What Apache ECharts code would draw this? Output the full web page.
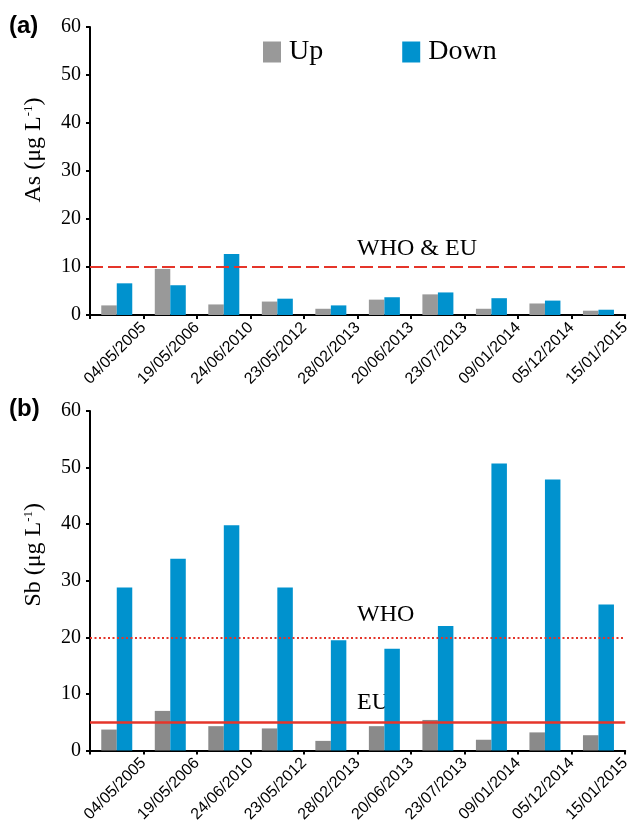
<!DOCTYPE html>
<html>
<head>
<meta charset="utf-8">
<script src="https://cdn.jsdelivr.net/npm/echarts@6/dist/echarts.min.js"></script>
<style>html,body{margin:0;padding:0;background:#fff}#c{width:633px;height:825px}</style>
</head>
<body>
<div id="c"></div>
<script>
const categories = ['04/05/2005','19/05/2006','24/06/2010','23/05/2012','28/02/2013','20/06/2013','23/07/2013','09/01/2014','05/12/2014','15/01/2015'];
const asUp   = [2.0, 9.6, 2.2, 2.8, 1.3, 3.2, 4.3, 1.3, 2.4, 0.9];
const asDown = [6.6, 6.2, 12.7, 3.4, 2.0, 3.7, 4.7, 3.5, 3.0, 1.1];
const sbUp   = [3.7, 7.0, 4.3, 3.9, 1.7, 4.3, 5.4, 1.9, 3.2, 2.7];
const sbDown = [28.8, 33.9, 39.8, 28.8, 19.5, 18.0, 22.0, 50.7, 47.9, 25.8];
const asLimitWhoEu = 10;
const sbLimitWho = 20;
const sbLimitEu = 5;
const yTicks = {min: 0, max: 60, interval: 10};
const boundaryLabels = [''].concat(categories);

const SERIF = 'Liberation Serif';
const SANS = 'Liberation Sans';
const BLUE = '#0092CE';
const RED = '#E5352A';

function yAxis(gridIndex, nm, shift) {
  return {
    type: 'value', gridIndex, min: yTicks.min, max: yTicks.max, interval: yTicks.interval,
    splitLine: {show: false},
    axisLine: {show: true, lineStyle: {color: '#000', width: 2}},
    axisTick: {show: true, length: 4, lineStyle: {color: '#000', width: 2}},
    axisLabel: {color: '#000', fontFamily: SERIF, fontSize: 20, margin: 9},
    name: '{n|' + nm + ' (μg L}{s|-1}{n|)}',
    nameLocation: 'middle', nameRotate: 90, nameGap: 44,
    nameTextStyle: {
      padding: [0, 0, 0, shift],
      rich: {
        n: {fontFamily: SERIF, fontSize: 24, color: '#000'},
        s: {fontFamily: SERIF, fontSize: 13, color: '#000', verticalAlign: 'top', padding: [0, 0, 10, 0]}
      }
    }
  };
}
function barAxis(gridIndex) {
  return {
    type: 'category', gridIndex, data: categories, position: 'bottom',
    axisLine: {show: true, lineStyle: {color: '#000', width: 2}},
    axisTick: {show: true, length: 4, interval: 0, lineStyle: {color: '#000', width: 2}},
    axisLabel: {show: false}
  };
}
function labelAxis(gridIndex) {
  return {
    type: 'category', gridIndex, data: boundaryLabels, position: 'bottom', boundaryGap: false,
    axisLine: {show: false}, axisTick: {show: false},
    axisLabel: {interval: 0, rotate: 45, color: '#000', fontFamily: SANS, fontSize: 16, margin: 10}
  };
}
function bar(name, data, xi, yi, color, extra) {
  return Object.assign({
    type: 'bar', name, data, xAxisIndex: xi, yAxisIndex: yi,
    barWidth: 15.5, barGap: '0%', itemStyle: {color},
    emphasis: {disabled: true}
  }, extra || {});
}

const option = {
  animation: false,
  backgroundColor: '#fff',
  grid: [
    {left: 90, right: 2, top: 27, height: 288},
    {left: 90, right: 2, top: 411, height: 339.5}
  ],
  legend: {
    data: ['Up', 'Down'], left: 263, top: 38, padding: 0,
    itemWidth: 18, itemHeight: 21, itemGap: 79,
    icon: 'rect',
    textStyle: {fontFamily: SERIF, fontSize: 28, color: '#000', padding: [0, 0, 0, 3]},
    selectedMode: false
  },
  xAxis: [barAxis(0), labelAxis(0), barAxis(1), labelAxis(1)],
  yAxis: [yAxis(0, 'As', 42), yAxis(1, 'Sb', 52)],
  series: [
    bar('Up', asUp, 0, 0, '#999999'),
    bar('Down', asDown, 0, 0, BLUE, {
      markLine: {
        symbol: 'none', silent: true, label: {show: false},
        lineStyle: {color: RED, width: 2, type: [13, 5]},
        data: [{yAxis: asLimitWhoEu}]
      }
    }),
    bar('Up', sbUp, 2, 1, '#8a8a8a'),
    bar('Down', sbDown, 2, 1, BLUE, {
      markLine: {
        symbol: 'none', silent: true, label: {show: false},
        data: [
          {yAxis: sbLimitWho, lineStyle: {color: RED, width: 2, type: [2, 2.5]}},
          {yAxis: sbLimitEu, lineStyle: {color: RED, width: 2.5, type: 'solid'}}
        ]
      }
    })
  ],
  graphic: [
    {type: 'text', left: 9, top: 14, style: {text: '(a)', fontFamily: SANS, fontWeight: 'bold', fontSize: 24, fill: '#000'}},
    {type: 'text', left: 9, top: 397, style: {text: '(b)', fontFamily: SANS, fontWeight: 'bold', fontSize: 24, fill: '#000'}},
    {type: 'text', left: 357, top: 237, style: {text: 'WHO & EU', fontFamily: SERIF, fontSize: 24, fill: '#000'}},
    {type: 'text', left: 357, top: 603, style: {text: 'WHO', fontFamily: SERIF, fontSize: 24, fill: '#000'}},
    {type: 'text', left: 357, top: 691, style: {text: 'EU', fontFamily: SERIF, fontSize: 24, fill: '#000'}}
  ]
};
const chart = echarts.init(document.getElementById('c'), null, {renderer: 'canvas'});
chart.setOption(option);
</script>
</body>
</html>
